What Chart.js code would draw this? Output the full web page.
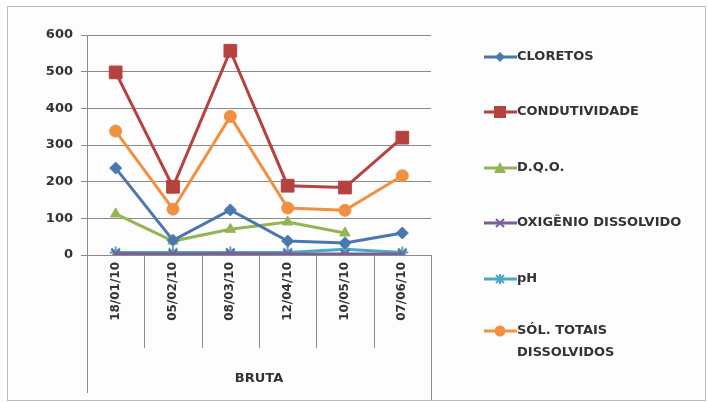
<!DOCTYPE html>
<html>
<head>
<meta charset="utf-8">
<script src="https://cdn.jsdelivr.net/npm/chart.js@4.4.1/dist/chart.umd.min.js"></script>
<style>
  body { margin: 0; background: #fff; }
  #wrap { position: relative; width: 708px; height: 402px; overflow: hidden; }
  #frame { position: absolute; left: 7px; top: 6px; width: 697px; height: 393px; border: 1px solid #bdbdbd; background: #fdfdfd; }
  #chart { position: absolute; left: 0; top: 0; }
  #legend { position: absolute; left: 484px; top: 0; font-family: 'DejaVu Sans', sans-serif; font-weight: bold; font-size: 13px; color: #333; }
  .item { position: absolute; left: 0; display: flex; align-items: flex-start; white-space: nowrap; }
  .item svg { flex: none; margin-top: 1px; }
  .item span { line-height: 22px; margin-top: -3px; }
</style>
</head>
<body>
<div id="wrap">
  <div id="frame"></div>
  <canvas id="chart" width="708" height="402"></canvas>
  <div id="legend"></div>
</div>
<script>
// categories and series
const dates = ['18/01/10', '05/02/10', '08/03/10', '12/04/10', '10/05/10', '07/06/10'];
const group = 'BRUTA';
const cloretos = [237, 40, 123, 38, 33, 60];
const condutividade = [498, 186, 557, 189, 184, 320];
const dqo = [112, 38, 70, 90, 60, null];
const oxigenio = [4, 3, 4, 3, 3, 3];
const ph = [7, 7, 7, 7, 16, 7];
const solidos = [338, 125, 378, 128, 122, 216];
const yTicks = [0, 100, 200, 300, 400, 500, 600];

const series = [
  { label: 'CLORETOS', data: cloretos, color: '#4a77b0', point: 'rectRot', r: 6 },
  { label: 'CONDUTIVIDADE', data: condutividade, color: '#b5423e', point: 'rect', r: 9 },
  { label: 'D.Q.O.', data: dqo, color: '#93b552', point: 'triangle', r: 6 },
  { label: 'OXIGÊNIO DISSOLVIDO', data: oxigenio, color: '#7a5e9c', point: 'crossRot', r: 6 },
  { label: 'pH', data: ph, color: '#4aa8c2', point: 'star', r: 6 },
  { label: ['SÓL. TOTAIS', 'DISSOLVIDOS'], data: solidos, color: '#f09040', point: 'circle', r: 6 }
];

const tickFont = { family: 'DejaVu Sans', size: 13, weight: 'bold' };

// separators under the axis and the group box around the date labels
const categoryLines = {
  id: 'categoryLines',
  afterDraw(chart) {
    const ctx = chart.ctx;
    const x = chart.scales.x;
    const top = chart.chartArea.bottom;
    ctx.save();
    ctx.strokeStyle = '#8a8a8a';
    ctx.lineWidth = 1;
    for (let i = 0; i <= dates.length; i++) {
      const px = Math.round(x.getPixelForValue(i - 0.5)) + 0.5;
      let bottom = top + 93;
      if (i === 0) bottom = top + 138;
      if (i === dates.length) bottom = 400;
      ctx.beginPath();
      ctx.moveTo(px, top);
      ctx.lineTo(px, bottom);
      ctx.stroke();
    }
    ctx.restore();
  }
};

new Chart(document.getElementById('chart'), {
  type: 'line',
  data: {
    labels: dates,
    datasets: series.map(s => ({
      label: s.label,
      data: s.data,
      borderColor: s.color,
      backgroundColor: s.color,
      borderWidth: 3,
      pointStyle: s.point,
      pointRadius: s.r,
      pointBorderWidth: s.point === 'crossRot' || s.point === 'star' ? 2 : 1,
      tension: 0,
      spanGaps: false
    }))
  },
  options: {
    responsive: false,
    animation: false,
    layout: { padding: { left: 0, top: 35, right: 277, bottom: 2 } },
    plugins: { legend: { display: false }, tooltip: { enabled: false } },
    scales: {
      x: {
        offset: true,
        grid: { display: true, drawOnChartArea: false, drawTicks: false, offset: true },
        border: { display: true, color: '#8a8a8a' },
        ticks: {
          autoSkip: false, minRotation: 90, maxRotation: 90, padding: 7,
          color: '#333', font: { family: 'DejaVu Sans', size: 12, weight: 'bold' }
        },
        title: {
          display: true, text: group, color: '#333',
          padding: { top: 0, bottom: 14 },
          font: { family: 'DejaVu Sans', size: 13, weight: 'bold' }
        },
        afterFit(scale) { scale.height = 145; }
      },
      y: {
        min: 0, max: 600,
        afterBuildTicks(scale) { scale.ticks = yTicks.map(v => ({ value: v })); },
        grid: { color: '#8a8a8a', tickLength: 6 },
        border: { display: true, color: '#8a8a8a' },
        ticks: { padding: 8, color: '#333', font: tickFont },
        afterFit(scale) { scale.width = 87; }
      }
    }
  },
  plugins: [categoryLines]
});

// legend: line with marker, then label
const legendTops = [48, 103, 159, 214, 270, 322];
const marker = (s) => {
  const c = s.color, cx = 16, cy = 8;
  switch (s.point) {
    case 'rectRot': return `<polygon points="${cx},${cy-5} ${cx+5},${cy} ${cx},${cy+5} ${cx-5},${cy}" fill="${c}"/>`;
    case 'rect': return `<rect x="${cx-6}" y="${cy-6}" width="12" height="12" fill="${c}"/>`;
    case 'triangle': return `<polygon points="${cx},${cy-6} ${cx+6},${cy+5} ${cx-6},${cy+5}" fill="${c}"/>`;
    case 'crossRot': return `<path d="M${cx-4} ${cy-4}L${cx+4} ${cy+4}M${cx+4} ${cy-4}L${cx-4} ${cy+4}" stroke="${c}" stroke-width="2"/>`;
    case 'star': return `<path d="M${cx-4} ${cy-4}L${cx+4} ${cy+4}M${cx+4} ${cy-4}L${cx-4} ${cy+4}M${cx} ${cy-5}L${cx} ${cy+5}" stroke="${c}" stroke-width="2"/>`;
    default: return `<circle cx="${cx}" cy="${cy}" r="5.5" fill="${c}"/>`;
  }
};
const legend = document.getElementById('legend');
series.forEach((s, i) => {
  const div = document.createElement('div');
  div.className = 'item';
  div.style.top = legendTops[i] + 'px';
  const text = Array.isArray(s.label) ? s.label.join('<br>') : s.label;
  div.innerHTML = `<svg width="33" height="16"><line x1="0" y1="8" x2="33" y2="8" stroke="${s.color}" stroke-width="3"/>${marker(s)}</svg><span>${text}</span>`;
  legend.appendChild(div);
});
</script>
</body>
</html>
